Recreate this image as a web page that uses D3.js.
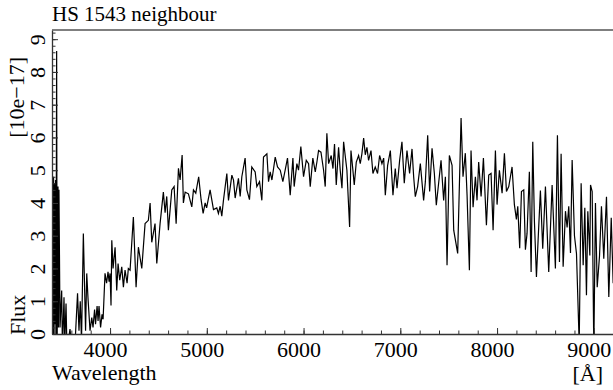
<!DOCTYPE html>
<html>
<head>
<meta charset="utf-8">
<script src="https://cdn.jsdelivr.net/npm/d3@7"></script>
<style>
  body { margin: 0; background: #fff; }
  .axis path, .axis line { stroke: #333; }
</style>
</head>
<body>
<div id="chart"></div>
<script>
var w = 613,
    h = 390,
    m = [30, -5, 56, 52]; // top right bottom left

var serif = "Liberation Serif";
var title = "HS 1543 neighbour";

// spectrum (Angstrom, 10e-17 flux)
var wavelength = [
  3405, 3410, 3416, 3421, 3426, 3431, 3436, 3441, 3448, 3453, 3462, 3467, 3472, 3483,
  3500, 3508, 3524, 3532, 3545, 3555, 3586, 3607, 3638, 3664, 3679, 3692, 3705, 3724,
  3747, 3759, 3772, 3793, 3811, 3824, 3840, 3850, 3866, 3876, 3886, 3902, 3917, 3928,
  3935, 3948, 3964, 3979, 3990, 4000, 4010, 4018, 4031, 4052, 4069, 4083, 4100, 4121,
  4138, 4155, 4176, 4189, 4207, 4241, 4269, 4293, 4328, 4362, 4396, 4414, 4431, 4465,
  4483, 4517, 4551, 4569, 4586, 4603, 4638, 4662, 4683, 4707, 4724, 4745, 4758, 4776,
  4810, 4845, 4862, 4886, 4916, 4941, 4962, 4983, 4998, 5034, 5069, 5103, 5120, 5138,
  5155, 5172, 5207, 5224, 5259, 5276, 5293, 5327, 5345, 5362, 5396, 5414, 5441, 5465,
  5500, 5517, 5545, 5569, 5586, 5621, 5638, 5655, 5673, 5707, 5731, 5759, 5786, 5810,
  5834, 5862, 5890, 5903, 5931, 5948, 5972, 6000, 6028, 6052, 6069, 6096, 6121, 6138,
  6155, 6180, 6207, 6224, 6241, 6259, 6286, 6304, 6320, 6338, 6362, 6379, 6397, 6414,
  6448, 6476, 6490, 6510, 6524, 6545, 6569, 6586, 6603, 6621, 6638, 6655, 6672, 6697,
  6717, 6741, 6765, 6786, 6810, 6828, 6845, 6869, 6897, 6924, 6948, 6966, 6993, 7017,
  7041, 7069, 7096, 7121, 7138, 7155, 7179, 7207, 7241, 7259, 7283, 7303, 7328, 7352,
  7372, 7396, 7421, 7448, 7466, 7483, 7507, 7535, 7552, 7593, 7628, 7648, 7672, 7690,
  7714, 7731, 7752, 7776, 7793, 7810, 7835, 7859, 7890, 7914, 7938, 7959, 7983, 8000,
  8024, 8052, 8076, 8097, 8121, 8155, 8179, 8200, 8214, 8234, 8252, 8276, 8293, 8310,
  8334, 8352, 8369, 8386, 8407, 8424, 8448, 8472, 8500, 8534, 8569, 8603, 8624, 8645,
  8662, 8683, 8707, 8724, 8741, 8759, 8776, 8800, 8821, 8849, 8869, 8890, 8907, 8924,
  8938, 8959, 8966, 8983, 9000, 9017, 9035, 9059, 9079, 9103, 9131, 9155, 9180, 9200,
  9224
];

var flux = [
  4.7, -0.5, 4.8, -0.5, 4.6, 0.3, 4.7, -0.5, 8.64, -0.5, 4.5, 0.2, 4.4, 0.2,
  1.33, -0.5, 1.12, -0.3, 0.93, -0.5, 0.15, -0.5, -0.3, 1.24, 0.1, 1.0, -0.2, 3.07,
  0.1, 1.85, 1.1, 0.1, 0.5, 0.2, 0.75, 0.3, 0.85, 0.4, 0.85, 0.2, 0.6, 0.45,
  0.93, 1.85, 1.55, 1.9, 1.6, 1.85, 0.87, 2.86, 2.0, 2.65, 1.33, 2.15, 1.64, 2.05,
  1.43, 1.95, 1.55, 2.0, 1.95, 3.57, 1.43, 2.65, 2.0, 3.37, 3.47, 4.0, 2.8, 3.37,
  2.15, 3.37, 4.33, 3.7, 4.2, 3.17, 4.4, 4.5, 3.37, 5.06, 4.7, 5.46, 4.0, 4.33,
  4.28, 3.88, 4.4, 4.3, 4.8, 4.1, 3.68, 4.0, 3.85, 4.4, 3.8, 3.85, 3.68, 3.9,
  3.6, 4.08, 4.9, 4.08, 4.85, 4.7, 4.15, 4.75, 4.2, 4.8, 5.37, 4.4, 4.1, 5.1,
  4.95, 4.5, 4.65, 4.08, 5.4, 5.5, 4.65, 4.95, 4.7, 5.4, 5.1, 5.0, 4.65, 5.0,
  5.37, 4.24, 5.37, 4.5, 5.2, 5.0, 5.72, 4.8, 5.3, 5.2, 4.5, 5.37, 4.95, 5.25,
  5.6, 5.55, 5.0, 4.5, 6.13, 5.2, 5.45, 5.05, 5.8, 4.55, 5.7, 5.0, 4.45, 5.87,
  5.0, 3.27, 5.6, 5.0, 4.55, 5.25, 5.45, 5.2, 5.5, 5.98, 5.47, 5.7, 5.3, 5.6,
  4.9, 5.1, 4.9, 5.45, 5.2, 5.37, 4.24, 5.15, 5.6, 4.24, 5.05, 4.45, 5.3, 5.87,
  4.6, 5.6, 4.9, 5.65, 4.8, 4.19, 4.5, 5.2, 4.08, 4.65, 6.07, 4.35, 5.67, 4.9,
  3.93, 4.6, 5.3, 4.08, 4.8, 2.1, 5.45, 5.15, 3.17, 2.46, 6.59, 4.8, 5.52, 4.24,
  1.95, 5.6, 3.87, 4.8, 4.08, 5.25, 4.2, 5.37, 3.32, 4.85, 4.9, 3.17, 5.6, 3.95,
  5.0, 4.3, 5.52, 4.35, 4.5, 5.1, 3.95, 3.5, 3.9, 2.62, 4.35, 4.4, 2.57, 3.07,
  4.95, 1.89, 5.87, 3.45, 1.74, 2.85, 4.38, 2.6, 4.5, 1.89, 4.55, 2.0, 6.07, 2.2,
  5.5, 2.05, 3.75, 3.25, 3.9, 2.47, 5.31, 3.0, 2.45, -0.3, 4.6, 2.1, 3.85, 1.18,
  3.75, 2.4, 4.55, 4.35, -0.5, 4.0, 1.43, 2.38, 3.9, 2.3, 4.19, 1.13, 3.55, 1.55,
  3.0
];

var xMajor = [4000, 5000, 6000, 7000, 8000, 9000],
    yMajor = [0, 1, 2, 3, 4, 5, 6, 7, 8, 9];
var xMinor = d3.range(3400, 9300, 200),
    yMinor = d3.range(0, 9.3, 0.2);

var x = d3.scaleLinear().domain([3400, 9250]).range([m[3], w - m[1]]),
    y = d3.scaleLinear().domain([0, 9.28]).range([h - m[2], m[0]]);

var svg = d3.select("#chart").append("svg")
    .attr("width", w)
    .attr("height", h);

svg.append("defs").append("clipPath")
    .attr("id", "plot")
  .append("rect")
    .attr("x", m[3])
    .attr("y", m[0])
    .attr("width", w - m[1] - m[3])
    .attr("height", h - m[0] - m[2]);

var line = d3.line()
    .x(function(d, i) { return x(wavelength[i]); })
    .y(function(d) { return y(d); });

svg.append("path")
    .datum(flux)
    .attr("clip-path", "url(#plot)")
    .attr("fill", "none")
    .attr("stroke", "#000")
    .attr("stroke-width", 1.2)
    .attr("d", line);

// minor ticks
svg.append("g")
    .attr("class", "axis")
    .attr("transform", "translate(0," + (h - m[2]) + ")")
    .call(d3.axisBottom(x).tickValues(xMinor).tickSize(-3.5).tickFormat(""))
    .call(function(g) { g.select(".domain").remove(); });

svg.append("g")
    .attr("class", "axis")
    .attr("transform", "translate(" + m[3] + ",0)")
    .call(d3.axisLeft(y).tickValues(yMinor).tickSize(-3.5).tickFormat(""))
    .call(function(g) { g.select(".domain").remove(); });

// major ticks + labels
var xAxis = svg.append("g")
    .attr("class", "axis")
    .attr("transform", "translate(0," + (h - m[2]) + ")")
    .call(d3.axisBottom(x).tickValues(xMajor).tickSize(-6).tickSizeOuter(0)
      .tickPadding(7).tickFormat(d3.format("d")));

xAxis.selectAll("text")
    .style("font-family", serif)
    .style("font-size", "22px")
    .attr("fill", "#000")
    .attr("dx", -5);

var yAxis = svg.append("g")
    .attr("class", "axis")
    .attr("transform", "translate(" + m[3] + ",0)")
    .call(d3.axisLeft(y).tickValues(yMajor).tickSize(-6).tickSizeOuter(0));

yAxis.selectAll("text")
    .style("font-family", serif)
    .style("font-size", "22px")
    .attr("fill", "#000")
    .attr("x", null)
    .attr("dy", null)
    .attr("text-anchor", "middle")
    .attr("transform", "translate(-7,0) rotate(-90)");

svg.selectAll(".axis .domain").attr("stroke-width", 1.3);

// top frame line
svg.append("line")
    .attr("x1", m[3]).attr("x2", w)
    .attr("y1", m[0]).attr("y2", m[0])
    .attr("stroke", "#555")
    .attr("stroke-width", 1.3);

var labels = svg.append("g").style("font-family", serif).style("font-size", "22px");

labels.append("text")
    .attr("x", m[3])
    .attr("y", 21)
    .style("font-size", "21px")
    .text(title);

labels.append("text")
    .attr("x", m[3])
    .attr("y", 380)
    .text("Wavelength");

labels.append("text")
    .attr("x", 603)
    .attr("y", 381)
    .attr("text-anchor", "end")
    .text("[Å]");

labels.append("text")
    .attr("transform", "translate(25," + (h - m[2] + 1) + ") rotate(-90)")
    .text("Flux");

labels.append("text")
    .attr("transform", "translate(24,57) rotate(-90)")
    .attr("text-anchor", "end")
    .text("[10e\u221217]");
</script>
</body>
</html>
